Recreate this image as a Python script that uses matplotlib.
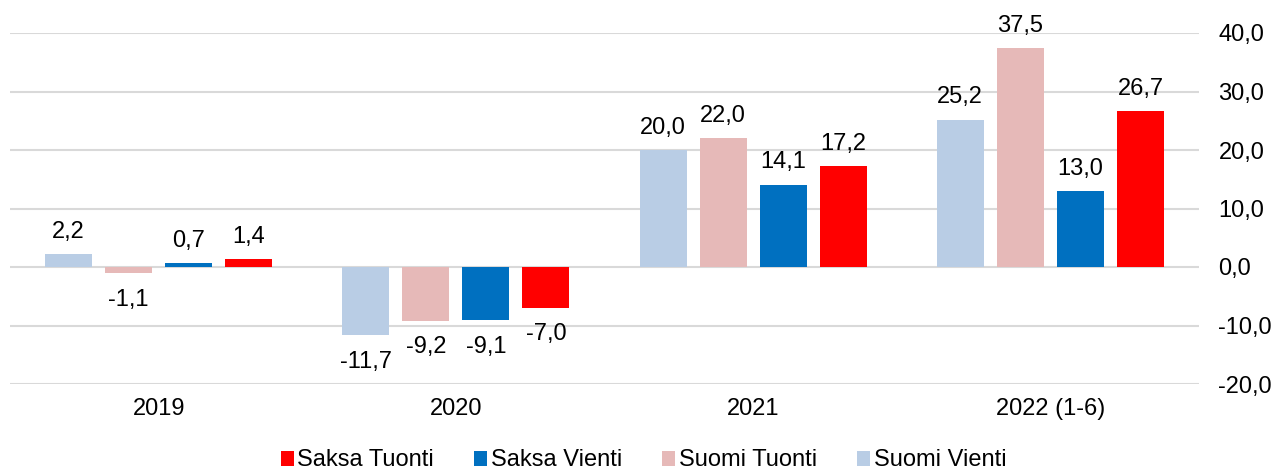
import numpy as np
import matplotlib.pyplot as plt

plt.rcParams['font.family'] = ['Liberation Sans', 'DejaVu Sans']

years = ['2019', '2020', '2021', '2022 (1-6)']
series = ['Suomi Vienti', 'Suomi Tuonti', 'Saksa Vienti', 'Saksa Tuonti']
suomi_vienti = [2.2, -11.7, 20.0, 25.2]
suomi_tuonti = [-1.1, -9.2, 22.0, 37.5]
saksa_vienti = [0.7, -9.1, 14.1, 13.0]
saksa_tuonti = [1.4, -7.0, 17.2, 26.7]
values = [suomi_vienti, suomi_tuonti, saksa_vienti, saksa_tuonti]
colors = ['#B9CDE5', '#E6B9B8', '#0070C0', '#FF0000']

fig = plt.figure(figsize=(12.87, 4.76), dpi=100)
ax = fig.add_axes([10/1287, 1-384/476, 1189/1287, 351/476])

x = np.arange(len(years))
step = 0.202
width = 0.158
fs = 17
for i, (name, vals, c) in enumerate(zip(series, values, colors)):
    b = ax.bar(x + (i - 1.5) * step, vals, width, color=c, label=name, zorder=3)
    for rect, v in zip(b, vals):
        off = 8 if v >= 0 else -11
        ax.annotate(f'{v:.1f}'.replace('.', ','),
                    (rect.get_x() + rect.get_width()/2, v),
                    xytext=(0, off), textcoords='offset points',
                    ha='center', va='bottom' if v >= 0 else 'top', fontsize=fs)

ax.set_xlim(-0.5, 3.5)
ax.set_ylim(-20, 40)
ax.set_yticks(range(-20, 41, 10))
ax.set_yticklabels([f'{t:.1f}'.replace('.', ',') for t in range(-20, 41, 10)])
ax.yaxis.tick_right()
ax.set_xticks(x)
ax.set_xticklabels(years)
ax.tick_params(axis='both', length=0, labelsize=fs)
ax.tick_params(axis='y', pad=14)
ax.tick_params(axis='x', pad=10)
ax.grid(axis='y', color='#D9D9D9', linewidth=1.5, zorder=0)
for s in ax.spines.values():
    s.set_visible(False)

h, l = ax.get_legend_handles_labels()
fig.legend(h[::-1], l[::-1], loc='lower center', bbox_to_anchor=(0.5, -0.035), ncol=4,
           frameon=False, fontsize=fs, handlelength=0.55, handleheight=0.6,
           handletextpad=0.15, columnspacing=1.7)

fig.savefig('out.png', dpi=100)
